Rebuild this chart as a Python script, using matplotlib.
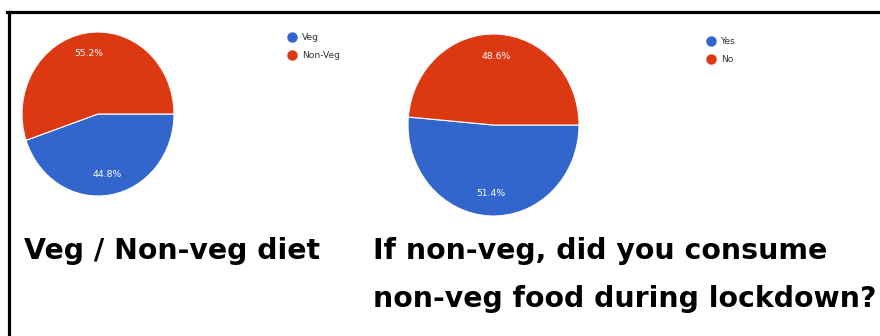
import matplotlib
matplotlib.use("Agg")
import matplotlib.pyplot as plt
from matplotlib.lines import Line2D

# --- data ---
diet_labels = ["Veg", "Non-Veg"]
diet_values = [44.8, 55.2]
consume_labels = ["Yes", "No"]
consume_values = [51.4, 48.6]
colors = ["#3366CC", "#DC3912"]

title_left = "Veg / Non-veg diet"
title_right_1 = "If non-veg, did you consume"
title_right_2 = "non-veg food during lockdown?"

W, H = 880, 336
fig = plt.figure(figsize=(W / 100, H / 100), dpi=100)
fig.patch.set_facecolor("white")


def px_axes(cx, cy, rx, ry):
    # axes placed in pixel coords (y from top)
    return fig.add_axes([(cx - rx) / W, (H - cy - ry) / H, 2 * rx / W, 2 * ry / H])


def draw_pie(ax, values):
    wedges, texts, autotexts = ax.pie(
        values, colors=colors, startangle=0, counterclock=False,
        autopct="%.1f%%", pctdistance=0.75, radius=1,
        wedgeprops=dict(edgecolor="white", linewidth=0.8),
        textprops=dict(color="white", fontsize=6.7))
    ax.set_aspect("auto")
    ax.set_xlim(-1, 1)
    ax.set_ylim(-1, 1)
    ax.axis("off")


def draw_legend(x, y, labels):
    for i, lab in enumerate(labels):
        yy = y + i * 18
        fig.add_artist(Line2D([x / W], [(H - yy) / H], marker="o", markersize=6.5,
                              color=colors[i], linestyle="none"))
        fig.text((x + 10) / W, (H - yy) / H, lab, fontsize=6.6, color="#333333",
                 va="center", ha="left")


ax1 = px_axes(98, 114, 76, 82)
draw_pie(ax1, diet_values)
ax2 = px_axes(493.5, 125, 85.5, 91)
draw_pie(ax2, consume_values)

draw_legend(292, 37, diet_labels)
draw_legend(711, 41, consume_labels)

# titles
tkw = dict(fontsize=20.4, fontweight="bold", color="black", va="baseline", ha="left",
           family="DejaVu Sans")
fig.text(24 / W, (H - 259) / H, title_left, **tkw)
fig.text(373 / W, (H - 259) / H, title_right_1, **tkw)
fig.text(373 / W, (H - 307) / H, title_right_2, **tkw)

# frame lines (top and left)
fig.add_artist(Line2D([7 / W, 1], [(H - 11.5) / H] * 2, color="black", linewidth=2.3))
fig.add_artist(Line2D([8.5 / W] * 2, [0, (H - 11.5) / H], color="black", linewidth=2.3))

fig.savefig("out.png", dpi=100, facecolor="white")
